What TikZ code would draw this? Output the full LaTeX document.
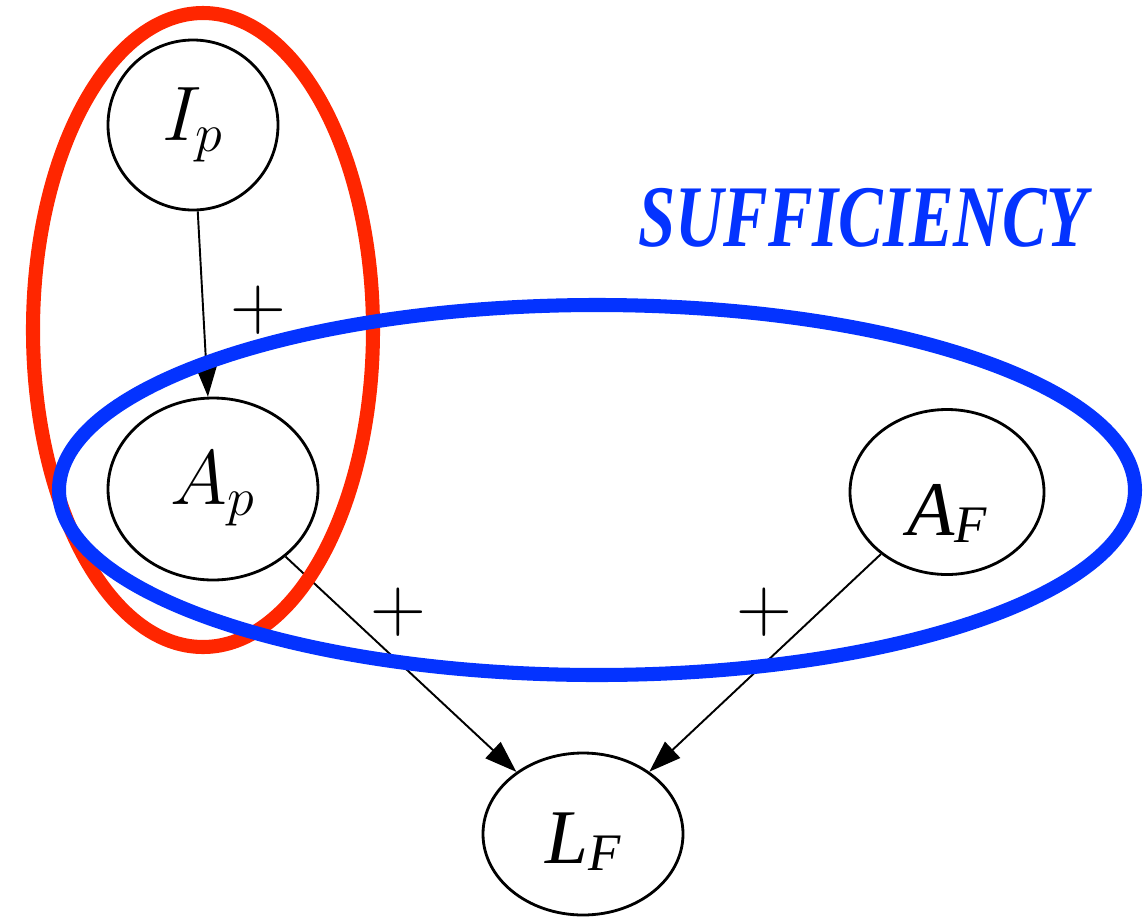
\RequirePackage{fix-cm}
\documentclass[tikz,border=0pt]{standalone}
\usepackage{fontspec}
\usepackage{amsmath}
\usepackage{tikz}
\usetikzlibrary{arrows.meta, shapes.geometric}
\newfontfamily\timesfont{Liberation Serif}
\definecolor{hullred}{RGB}{255,38,0}
\definecolor{hullblue}{RGB}{4,51,255}
\newcommand{\tvarname}[2]{{\timesfont\itshape #1\raisebox{-4pt}{\fontsize{30}{32}\selectfont #2}}}

\begin{document}
\begin{tikzpicture}[
    var/.style={ellipse, draw, line width=1.6pt, inner sep=0pt, font=\fontsize{44}{50}\selectfont},
    arr/.style={-{Triangle[length=0.64cm, width=0.44cm]}, line width=1.1pt},
    sgn/.style={inner sep=0pt, font=\fontsize{44}{50}\selectfont},
    hull/.style={line width=8pt}]
    \useasboundingbox (0,0) rectangle (22.86,-18.44);
    \node[var, circle, minimum size=3.4cm] (Ip) at (3.86,-2.50) {$I_p$};
    \node[var, minimum width=4.2cm, minimum height=3.64cm] (Ap) at (4.26,-9.78) {$A_p$};
    \node[var, minimum width=3.88cm, minimum height=3.30cm, text height=1.72cm, text depth=0pt] (AF) at (18.94,-9.84) {\tvarname{A}{F}};
    \node[var, minimum width=4.0cm, minimum height=3.24cm, text height=1.16cm, text depth=0pt] (LF) at (11.66,-16.68) {\tvarname{L}{F}};
    \draw[arr] (Ip) -- (Ap);
    \draw[arr] (Ap) -- (LF);
    \draw[arr] (AF) -- (LF);
    \node[sgn] (s1) at (5.16,-6.20) {$+$};
    \node[sgn] (s2) at (7.96,-12.24) {$+$};
    \node[sgn] (s3) at (15.28,-12.24) {$+$};
    \node[anchor=base, inner sep=0pt, text=hullblue, font=\timesfont\bfseries\itshape\fontsize{50}{56}\selectfont] (suff) at (17.26,-4.92) {\scalebox{0.76}[1]{SUFFICIENCY}};
    \draw[hull, hullred] (4.06,-6.60) ellipse [x radius=3.40, y radius=6.34];
    \draw[hull, hullblue] (11.94,-9.80) ellipse [x radius=10.76, y radius=3.70];
\end{tikzpicture}
\end{document}
